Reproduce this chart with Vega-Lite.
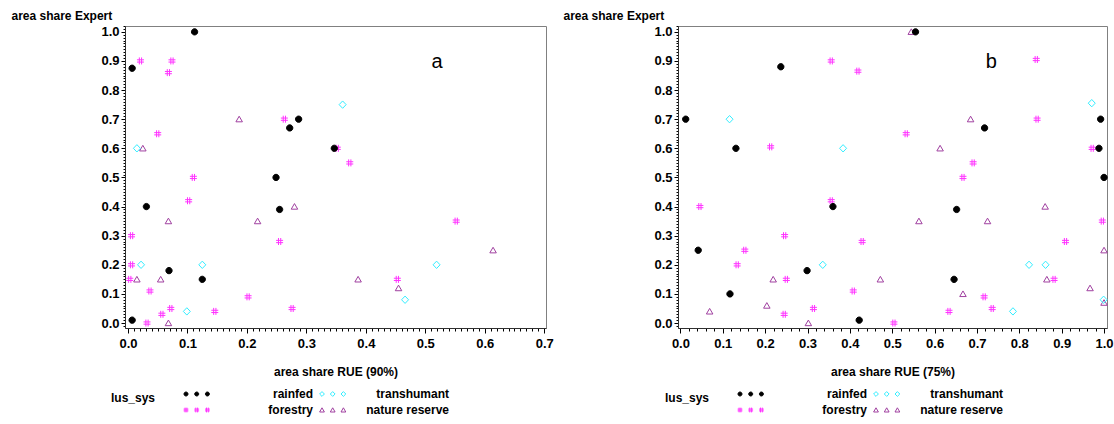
{
  "$schema": "https://vega.github.io/schema/vega-lite/v6.json",
  "padding": {"left": 10, "top": 8, "right": 0, "bottom": 0},
  "background": "white",
  "spacing": 8,
  "config": {
    "view": {"stroke": "#808080", "strokeWidth": 1},
    "axis": {
      "domainColor": "#303030", "tickColor": "#000000", "grid": false,
      "labelFont": "Liberation Sans", "labelFontWeight": "bold", "labelFontSize": 13, "labelColor": "#000000",
      "titleFont": "Liberation Sans", "titleFontWeight": "bold", "titleFontSize": 12, "titleColor": "#000000",
      "labelOverlap": false, "labelFlush": false, "labelBound": false
    },
    "legend": {
      "titleFont": "Liberation Sans", "titleFontWeight": "bold", "titleFontSize": 12, "titleColor": "#000000",
      "labelFont": "Liberation Sans", "labelFontWeight": "bold", "labelFontSize": 12, "labelColor": "#000000",
      "symbolSize": 16, "symbolStrokeWidth": 1, "labelAlign": "right", "labelOffset": 121,
      "columnPadding": 3, "rowPadding": 4, "titleOrient": "left", "titleAnchor": "middle",
      "titleBaseline": "alphabetic", "titlePadding": 24, "padding": 0, "labelLimit": 200, "columns": 2
    }
  },
  "datasets": {
    "a": [
      {"x": 0.187, "y": 0.70, "lus": "nature reserve"},
      {"x": 0.025, "y": 0.60, "lus": "nature reserve"},
      {"x": 0.280, "y": 0.40, "lus": "nature reserve"},
      {"x": 0.068, "y": 0.35, "lus": "nature reserve"},
      {"x": 0.218, "y": 0.35, "lus": "nature reserve"},
      {"x": 0.015, "y": 0.15, "lus": "nature reserve"},
      {"x": 0.055, "y": 0.15, "lus": "nature reserve"},
      {"x": 0.068, "y": 0.00, "lus": "nature reserve"},
      {"x": 0.614, "y": 0.25, "lus": "nature reserve"},
      {"x": 0.387, "y": 0.15, "lus": "nature reserve"},
      {"x": 0.455, "y": 0.12, "lus": "nature reserve"},
      {"x": 0.361, "y": 0.75, "lus": "transhumant"},
      {"x": 0.015, "y": 0.60, "lus": "transhumant"},
      {"x": 0.022, "y": 0.20, "lus": "transhumant"},
      {"x": 0.125, "y": 0.20, "lus": "transhumant"},
      {"x": 0.099, "y": 0.04, "lus": "transhumant"},
      {"x": 0.519, "y": 0.20, "lus": "transhumant"},
      {"x": 0.466, "y": 0.08, "lus": "transhumant"},
      {"x": 0.021, "y": 0.90, "lus": "forestry"},
      {"x": 0.074, "y": 0.90, "lus": "forestry"},
      {"x": 0.068, "y": 0.86, "lus": "forestry"},
      {"x": 0.263, "y": 0.70, "lus": "forestry"},
      {"x": 0.050, "y": 0.65, "lus": "forestry"},
      {"x": 0.352, "y": 0.60, "lus": "forestry"},
      {"x": 0.373, "y": 0.55, "lus": "forestry"},
      {"x": 0.110, "y": 0.50, "lus": "forestry"},
      {"x": 0.102, "y": 0.42, "lus": "forestry"},
      {"x": 0.006, "y": 0.30, "lus": "forestry"},
      {"x": 0.255, "y": 0.28, "lus": "forestry"},
      {"x": 0.006, "y": 0.20, "lus": "forestry"},
      {"x": 0.003, "y": 0.15, "lus": "forestry"},
      {"x": 0.037, "y": 0.11, "lus": "forestry"},
      {"x": 0.202, "y": 0.09, "lus": "forestry"},
      {"x": 0.072, "y": 0.05, "lus": "forestry"},
      {"x": 0.057, "y": 0.03, "lus": "forestry"},
      {"x": 0.276, "y": 0.05, "lus": "forestry"},
      {"x": 0.146, "y": 0.04, "lus": "forestry"},
      {"x": 0.032, "y": 0.00, "lus": "forestry"},
      {"x": 0.552, "y": 0.35, "lus": "forestry"},
      {"x": 0.453, "y": 0.15, "lus": "forestry"},
      {"x": 0.007, "y": 0.875, "lus": "rainfed"},
      {"x": 0.112, "y": 1.00, "lus": "rainfed"},
      {"x": 0.272, "y": 0.67, "lus": "rainfed"},
      {"x": 0.287, "y": 0.70, "lus": "rainfed"},
      {"x": 0.347, "y": 0.60, "lus": "rainfed"},
      {"x": 0.249, "y": 0.50, "lus": "rainfed"},
      {"x": 0.255, "y": 0.39, "lus": "rainfed"},
      {"x": 0.031, "y": 0.40, "lus": "rainfed"},
      {"x": 0.069, "y": 0.18, "lus": "rainfed"},
      {"x": 0.125, "y": 0.15, "lus": "rainfed"},
      {"x": 0.007, "y": 0.01, "lus": "rainfed"}
    ],
    "b": [
      {"x": 0.545, "y": 1.00, "lus": "nature reserve"},
      {"x": 0.685, "y": 0.70, "lus": "nature reserve"},
      {"x": 0.613, "y": 0.60, "lus": "nature reserve"},
      {"x": 0.861, "y": 0.40, "lus": "nature reserve"},
      {"x": 0.563, "y": 0.35, "lus": "nature reserve"},
      {"x": 0.725, "y": 0.35, "lus": "nature reserve"},
      {"x": 1.000, "y": 0.25, "lus": "nature reserve"},
      {"x": 0.219, "y": 0.15, "lus": "nature reserve"},
      {"x": 0.472, "y": 0.15, "lus": "nature reserve"},
      {"x": 0.865, "y": 0.15, "lus": "nature reserve"},
      {"x": 0.967, "y": 0.12, "lus": "nature reserve"},
      {"x": 0.667, "y": 0.10, "lus": "nature reserve"},
      {"x": 0.069, "y": 0.04, "lus": "nature reserve"},
      {"x": 0.204, "y": 0.06, "lus": "nature reserve"},
      {"x": 0.302, "y": 0.00, "lus": "nature reserve"},
      {"x": 1.000, "y": 0.07, "lus": "nature reserve"},
      {"x": 0.116, "y": 0.70, "lus": "transhumant"},
      {"x": 0.384, "y": 0.60, "lus": "transhumant"},
      {"x": 0.971, "y": 0.755, "lus": "transhumant"},
      {"x": 0.336, "y": 0.20, "lus": "transhumant"},
      {"x": 0.823, "y": 0.20, "lus": "transhumant"},
      {"x": 0.862, "y": 0.20, "lus": "transhumant"},
      {"x": 0.785, "y": 0.04, "lus": "transhumant"},
      {"x": 0.999, "y": 0.08, "lus": "transhumant"},
      {"x": 0.213, "y": 0.605, "lus": "forestry"},
      {"x": 0.356, "y": 0.90, "lus": "forestry"},
      {"x": 0.046, "y": 0.40, "lus": "forestry"},
      {"x": 0.356, "y": 0.42, "lus": "forestry"},
      {"x": 0.419, "y": 0.865, "lus": "forestry"},
      {"x": 0.840, "y": 0.905, "lus": "forestry"},
      {"x": 0.842, "y": 0.70, "lus": "forestry"},
      {"x": 0.533, "y": 0.65, "lus": "forestry"},
      {"x": 0.972, "y": 0.60, "lus": "forestry"},
      {"x": 0.691, "y": 0.55, "lus": "forestry"},
      {"x": 0.667, "y": 0.50, "lus": "forestry"},
      {"x": 0.246, "y": 0.30, "lus": "forestry"},
      {"x": 0.152, "y": 0.25, "lus": "forestry"},
      {"x": 0.134, "y": 0.20, "lus": "forestry"},
      {"x": 0.250, "y": 0.15, "lus": "forestry"},
      {"x": 0.245, "y": 0.03, "lus": "forestry"},
      {"x": 0.314, "y": 0.05, "lus": "forestry"},
      {"x": 0.996, "y": 0.35, "lus": "forestry"},
      {"x": 0.429, "y": 0.28, "lus": "forestry"},
      {"x": 0.909, "y": 0.28, "lus": "forestry"},
      {"x": 0.882, "y": 0.15, "lus": "forestry"},
      {"x": 0.408, "y": 0.11, "lus": "forestry"},
      {"x": 0.717, "y": 0.09, "lus": "forestry"},
      {"x": 0.736, "y": 0.05, "lus": "forestry"},
      {"x": 0.634, "y": 0.04, "lus": "forestry"},
      {"x": 0.504, "y": 0.00, "lus": "forestry"},
      {"x": 0.0125, "y": 0.70, "lus": "rainfed"},
      {"x": 0.131, "y": 0.60, "lus": "rainfed"},
      {"x": 0.237, "y": 0.88, "lus": "rainfed"},
      {"x": 0.360, "y": 0.40, "lus": "rainfed"},
      {"x": 0.555, "y": 1.00, "lus": "rainfed"},
      {"x": 0.992, "y": 0.70, "lus": "rainfed"},
      {"x": 0.718, "y": 0.67, "lus": "rainfed"},
      {"x": 0.988, "y": 0.60, "lus": "rainfed"},
      {"x": 1.000, "y": 0.50, "lus": "rainfed"},
      {"x": 0.652, "y": 0.39, "lus": "rainfed"},
      {"x": 0.042, "y": 0.25, "lus": "rainfed"},
      {"x": 0.299, "y": 0.18, "lus": "rainfed"},
      {"x": 0.117, "y": 0.10, "lus": "rainfed"},
      {"x": 0.646, "y": 0.15, "lus": "rainfed"},
      {"x": 0.422, "y": 0.01, "lus": "rainfed"}
    ]
  },
  "hconcat": [
    {
      "width": 421,
      "height": 302,
      "layer": [
        {
          "data": {"name": "a"},
          "mark": {"type": "point", "size": 49, "strokeWidth": 1, "opacity": 1},
          "encoding": {
            "x": {"field": "x", "type": "quantitative",
              "scale": {"domain": [-0.005, 0.703], "nice": false, "zero": false},
              "axis": {"tickCount": 70,
                "labelExpr": "abs(datum.value*10 - round(datum.value*10)) < 0.001 ? format(datum.value, '.1f') : ''",
                "tickSize": {"condition": {"test": "abs(datum.value*10 - round(datum.value*10)) < 0.001", "value": 5}, "value": 3},
                "labelPadding": 4, "title": "area share RUE (90%)", "titleY": 47, "titleBaseline": "alphabetic"}},
            "y": {"field": "y", "type": "quantitative",
              "scale": {"domain": [-0.017, 1.02], "nice": false, "zero": false},
              "axis": {"tickCount": 100,
                "labelExpr": "abs(datum.value*10 - round(datum.value*10)) < 0.001 ? format(datum.value, '.1f') : ''",
                "tickSize": {"condition": {"test": "abs(datum.value*10 - round(datum.value*10)) < 0.001", "value": 4}, "value": 2},
                "labelPadding": 2, "title": "area share Expert", "titleAngle": 0, "titleAlign": "left",
                "titleBaseline": "alphabetic", "titleX": -114, "titleY": -7}},
            "shape": {"field": "lus", "type": "nominal", "legend": null,
              "scale": {"domain": ["rainfed", "transhumant", "forestry", "nature reserve"],
                "range": ["M-0.9,0A0.9,0.9 0 1,0 0.9,0A0.9,0.9 0 1,0 -0.9,0Z", "M-1,0L0,-1.05L1,0L0,1.05Z", "M-0.32,-1L-0.32,1M0.32,-1L0.32,1M-1,-0.32L1,-0.32M-1,0.32L1,0.32", "M0,-0.85L0.93,0.75L-0.93,0.75Z"]}},
            "fill": {"field": "lus", "type": "nominal", "legend": null,
              "scale": {"domain": ["rainfed", "transhumant", "forestry", "nature reserve"],
                "range": ["#000000", "transparent", "transparent", "transparent"]}},
            "stroke": {"field": "lus", "type": "nominal", "legend": null,
              "scale": {"domain": ["rainfed", "transhumant", "forestry", "nature reserve"],
                "range": ["#000000", "#33eeff", "#ff33ff", "#a040a0"]}}
          }
        },
        {
          "data": {"name": "a"},
          "transform": [{"filter": "false"}],
          "mark": {"type": "point", "size": 16, "strokeWidth": 1, "opacity": 1},
          "encoding": {
            "shape": {"field": "lus", "type": "nominal",
              "legend": {"title": "lus_sys", "orient": "none", "legendX": -14, "legendY": 362},
              "scale": {"domain": ["rainfed", "forestry", "transhumant", "nature reserve"],
                "range": [
                  "M-1,0A1,1 0 1,0 1,0A1,1 0 1,0 -1,0ZM4.35,0A1,1 0 1,0 6.35,0A1,1 0 1,0 4.35,0ZM9.7,0A1,1 0 1,0 11.7,0A1,1 0 1,0 9.7,0Z",
                  "M-0.45,-1.2L-0.45,1.2M0.45,-1.2L0.45,1.2M-1.2,-0.45L1.2,-0.45M-1.2,0.45L1.2,0.45M4.9,-1.2L4.9,1.2M5.8,-1.2L5.8,1.2M4.15,-0.45L6.55,-0.45M4.15,0.45L6.55,0.45M10.25,-1.2L10.25,1.2M11.15,-1.2L11.15,1.2M9.5,-0.45L11.9,-0.45M9.5,0.45L11.9,0.45",
                  "M-1.2,0L0,-1.2L1.2,0L0,1.2ZM4.15,0L5.35,-1.2L6.55,0L5.35,1.2ZM9.5,0L10.7,-1.2L11.9,0L10.7,1.2Z",
                  "M0,-1.1L1.2,1L-1.2,1ZM5.35,-1.1L6.55,1L4.15,1ZM10.7,-1.1L11.9,1L9.5,1Z"]}},
            "fill": {"field": "lus", "type": "nominal",
              "legend": {"title": "lus_sys", "orient": "none", "legendX": -14, "legendY": 362},
              "scale": {"domain": ["rainfed", "forestry", "transhumant", "nature reserve"],
                "range": ["#000000", "transparent", "transparent", "transparent"]}},
            "stroke": {"field": "lus", "type": "nominal",
              "legend": {"title": "lus_sys", "orient": "none", "legendX": -14, "legendY": 362},
              "scale": {"domain": ["rainfed", "forestry", "transhumant", "nature reserve"],
                "range": ["#000000", "#ff33ff", "#33eeff", "#a040a0"]}}
          }
        },
        {
          "data": {"values": [{}]},
          "mark": {"type": "text", "text": "a", "font": "Liberation Sans", "fontSize": 20, "align": "center", "baseline": "middle", "color": "#000000"},
          "encoding": {
            "x": {"datum": 0.52, "type": "quantitative"},
            "y": {"datum": 0.895, "type": "quantitative"}
          }
        }
      ],
      "resolve": {"scale": {"shape": "independent", "fill": "independent", "stroke": "independent"}}
    },
    {
      "width": 429,
      "height": 302,
      "layer": [
        {
          "data": {"name": "b"},
          "mark": {"type": "point", "size": 49, "strokeWidth": 1, "opacity": 1},
          "encoding": {
            "x": {"field": "x", "type": "quantitative",
              "scale": {"domain": [-0.0057, 1.007], "nice": false, "zero": false},
              "axis": {"tickCount": 50,
                "labelExpr": "abs(datum.value*10 - round(datum.value*10)) < 0.001 ? format(datum.value, '.1f') : ''",
                "tickSize": {"condition": {"test": "abs(datum.value*10 - round(datum.value*10)) < 0.001", "value": 5}, "value": 3},
                "labelPadding": 4, "title": "area share RUE (75%)", "titleY": 47, "titleBaseline": "alphabetic"}},
            "y": {"field": "y", "type": "quantitative",
              "scale": {"domain": [-0.017, 1.02], "nice": false, "zero": false},
              "axis": {"tickCount": 100,
                "labelExpr": "abs(datum.value*10 - round(datum.value*10)) < 0.001 ? format(datum.value, '.1f') : ''",
                "tickSize": {"condition": {"test": "abs(datum.value*10 - round(datum.value*10)) < 0.001", "value": 4}, "value": 2},
                "labelPadding": 2, "title": "area share Expert", "titleAngle": 0, "titleAlign": "left",
                "titleBaseline": "alphabetic", "titleX": -115, "titleY": -7}},
            "shape": {"field": "lus", "type": "nominal", "legend": null,
              "scale": {"domain": ["rainfed", "transhumant", "forestry", "nature reserve"],
                "range": ["M-0.9,0A0.9,0.9 0 1,0 0.9,0A0.9,0.9 0 1,0 -0.9,0Z", "M-1,0L0,-1.05L1,0L0,1.05Z", "M-0.32,-1L-0.32,1M0.32,-1L0.32,1M-1,-0.32L1,-0.32M-1,0.32L1,0.32", "M0,-0.85L0.93,0.75L-0.93,0.75Z"]}},
            "fill": {"field": "lus", "type": "nominal", "legend": null,
              "scale": {"domain": ["rainfed", "transhumant", "forestry", "nature reserve"],
                "range": ["#000000", "transparent", "transparent", "transparent"]}},
            "stroke": {"field": "lus", "type": "nominal", "legend": null,
              "scale": {"domain": ["rainfed", "transhumant", "forestry", "nature reserve"],
                "range": ["#000000", "#33eeff", "#ff33ff", "#a040a0"]}}
          }
        },
        {
          "data": {"name": "b"},
          "transform": [{"filter": "false"}],
          "mark": {"type": "point", "size": 16, "strokeWidth": 1, "opacity": 1},
          "encoding": {
            "shape": {"field": "lus", "type": "nominal",
              "legend": {"title": "lus_sys", "orient": "none", "legendX": -13, "legendY": 362},
              "scale": {"domain": ["rainfed", "forestry", "transhumant", "nature reserve"],
                "range": [
                  "M-1,0A1,1 0 1,0 1,0A1,1 0 1,0 -1,0ZM4.35,0A1,1 0 1,0 6.35,0A1,1 0 1,0 4.35,0ZM9.7,0A1,1 0 1,0 11.7,0A1,1 0 1,0 9.7,0Z",
                  "M-0.45,-1.2L-0.45,1.2M0.45,-1.2L0.45,1.2M-1.2,-0.45L1.2,-0.45M-1.2,0.45L1.2,0.45M4.9,-1.2L4.9,1.2M5.8,-1.2L5.8,1.2M4.15,-0.45L6.55,-0.45M4.15,0.45L6.55,0.45M10.25,-1.2L10.25,1.2M11.15,-1.2L11.15,1.2M9.5,-0.45L11.9,-0.45M9.5,0.45L11.9,0.45",
                  "M-1.2,0L0,-1.2L1.2,0L0,1.2ZM4.15,0L5.35,-1.2L6.55,0L5.35,1.2ZM9.5,0L10.7,-1.2L11.9,0L10.7,1.2Z",
                  "M0,-1.1L1.2,1L-1.2,1ZM5.35,-1.1L6.55,1L4.15,1ZM10.7,-1.1L11.9,1L9.5,1Z"]}},
            "fill": {"field": "lus", "type": "nominal",
              "legend": {"title": "lus_sys", "orient": "none", "legendX": -13, "legendY": 362},
              "scale": {"domain": ["rainfed", "forestry", "transhumant", "nature reserve"],
                "range": ["#000000", "transparent", "transparent", "transparent"]}},
            "stroke": {"field": "lus", "type": "nominal",
              "legend": {"title": "lus_sys", "orient": "none", "legendX": -13, "legendY": 362},
              "scale": {"domain": ["rainfed", "forestry", "transhumant", "nature reserve"],
                "range": ["#000000", "#ff33ff", "#33eeff", "#a040a0"]}}
          }
        },
        {
          "data": {"values": [{}]},
          "mark": {"type": "text", "text": "b", "font": "Liberation Sans", "fontSize": 20, "align": "center", "baseline": "middle", "color": "#000000"},
          "encoding": {
            "x": {"datum": 0.734, "type": "quantitative"},
            "y": {"datum": 0.895, "type": "quantitative"}
          }
        }
      ],
      "resolve": {"scale": {"shape": "independent", "fill": "independent", "stroke": "independent"}}
    }
  ],
  "resolve": {"scale": {"x": "independent", "y": "independent", "shape": "independent", "fill": "independent", "stroke": "independent"}}
}
